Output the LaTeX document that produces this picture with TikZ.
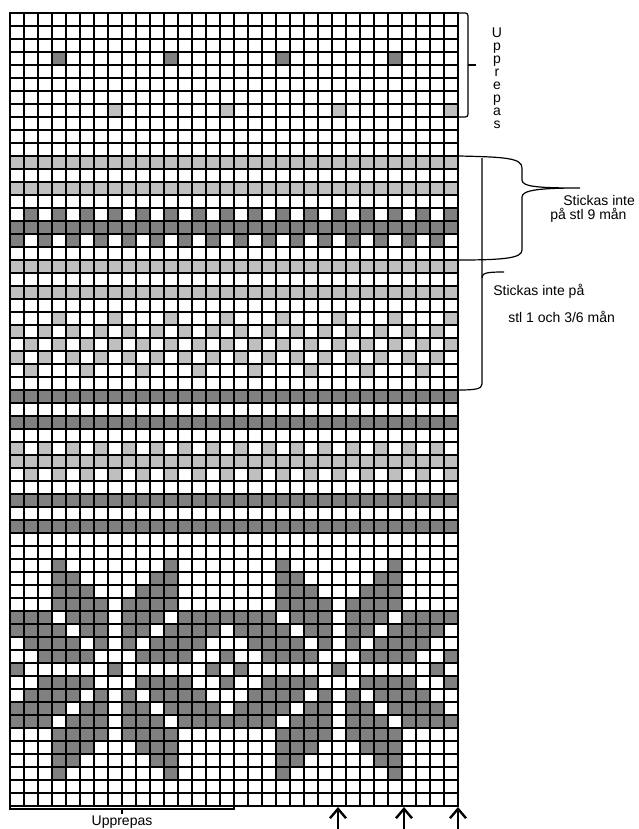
\documentclass[tikz,border=0pt]{standalone}
\usepackage{fontspec}
\setmainfont{Liberation Sans}
\usetikzlibrary{arrows.meta}

\definecolor{morkgra}{gray}{0.5}
\definecolor{ljusgra}{gray}{0.75}

\tikzset{
  mork/.style={fill=morkgra},
  ljus/.style={fill=ljusgra},
  rutnat/.style={line width=1.5pt, line cap=rect},
  klammer/.style={line width=0.9pt},
  pil/.style={line width=0.8pt, -{Straight Barb[length=7pt,width=12pt,line width=1.8pt]}},
  etikett/.style={inner sep=0pt, font=\fontsize{10.5}{12}\selectfont},
}

% enstaka rutor i en rad
\newcommand{\rutor}[3]{\foreach \kol in {#3} {\fill[#1] (\kol-1,#2-1) rectangle (\kol,#2);}}
% hel rad
\newcommand{\helrad}[2]{\fill[#1] (0,#2-1) rectangle (32,#2);}
% stjarna, upprepas var 16:e maska
\newcommand{\stjarna}[2]{\foreach \kol in {#2} {%
  \fill[mork] (\kol-1,#1-1) rectangle (\kol,#1);
  \fill[mork] (\kol+15,#1-1) rectangle (\kol+16,#1);}}

\begin{document}
\begin{tikzpicture}[x=0.75pt, y=-0.75pt]
  \useasboundingbox (0,0) rectangle (639,829);

  \begin{scope}[shift={(10,13)}, x=10.5pt, y=-9.75pt]
    % ovre delen
    \rutor{mork}{4}{4,12,20,28}
    \rutor{ljus}{8}{8,16,24,32}
    \helrad{ljus}{12}
    \helrad{ljus}{14}
    \rutor{mork}{16}{2,4,...,32}
    \helrad{mork}{17}
    \rutor{mork}{18}{1,3,...,31}
    \helrad{ljus}{20}
    \helrad{ljus}{22}
    \rutor{ljus}{24}{4,8,...,32}
    \rutor{ljus}{25}{1,3,...,31}
    \rutor{ljus}{26}{2,4,...,32}
    \rutor{ljus}{27}{1,3,...,31}
    \rutor{ljus}{28}{2,6,...,30}
    \helrad{mork}{30}
    \helrad{mork}{32}
    \rutor{ljus}{34}{1,3,...,31}
    \helrad{ljus}{35}
    \rutor{ljus}{36}{2,4,...,32}
    \helrad{mork}{38}
    \helrad{mork}{40}

    % stjarnor
    \foreach \r in {43,59} {\stjarna{\r}{4,12}}
    \foreach \r in {44,58} {\stjarna{\r}{4,5,11,12}}
    \foreach \r in {45,57} {\stjarna{\r}{4,5,6,10,11,12}}
    \foreach \r in {46,56} {\stjarna{\r}{4,5,6,7,9,10,11,12}}
    \foreach \r in {47,55} {\stjarna{\r}{1,2,3,5,6,7,9,10,11,13,14,15,16}}
    \foreach \r in {48,54} {\stjarna{\r}{1,2,3,4,6,7,9,10,12,13,14,15}}
    \foreach \r in {49,53} {\stjarna{\r}{2,3,4,5,7,9,11,12,13,14}}
    \foreach \r in {50,52} {\stjarna{\r}{3,4,5,6,10,11,12,13,16}}
    \stjarna{51}{1,8,15}

    % rutnat
    \foreach \i in {0,...,32} \draw[rutnat] (\i,0) -- (\i,61);
    \foreach \j in {0,...,61} \draw[rutnat] (0,\j) -- (32,\j);
  \end{scope}

  % upprepas, overst
  \draw[klammer, rounded corners=2pt] (459,13) -- (468,13) -- (468,117) -- (459,117);
  \draw[klammer] (468,65) -- (476,65);
  \node[etikett, align=center, font=\fontsize{10.5}{9.75}\selectfont] (upprepaTopp) at (497,78)
    {U\\p\\p\\r\\e\\p\\a\\s};

  % stl 9 man
  \draw[klammer] (459,156) .. controls (505,157) and (522,158) .. (522,168)
    -- (522,180) .. controls (522,187) and (540,188) .. (580,188)
    .. controls (540,188) and (522,190) .. (522,197)
    -- (522,250) .. controls (522,258) and (505,260) .. (459,260);
  \node[etikett, anchor=base west] (stickas9a) at (563,205) {Stickas inte};
  \node[etikett, anchor=base west] (stickas9b) at (550,219) {på stl 9 mån};

  % stl 1 och 3/6 man
  \draw[klammer] (482,158) -- (482,384) .. controls (482,389) and (475,390) .. (459,390);
  \draw[klammer] (482,278) .. controls (482,273) and (486,272) .. (504,272);
  \node[etikett, anchor=base west] (stickas1a) at (493,295) {Stickas inte på};
  \node[etikett, anchor=base west] (stickas1b) at (508,322) {stl 1 och 3/6 mån};

  % upprepas, nederst
  \draw[klammer] (10,804) -- (10,809) -- (234,809) -- (234,804);
  \draw[klammer] (122,809) -- (122,814);
  \node[etikett, anchor=base] (upprepaBotten) at (122,825) {Upprepas};

  % pilar
  \foreach \px in {338,404,458} \draw[pil] (\px,829) -- (\px,807);
\end{tikzpicture}
\end{document}
